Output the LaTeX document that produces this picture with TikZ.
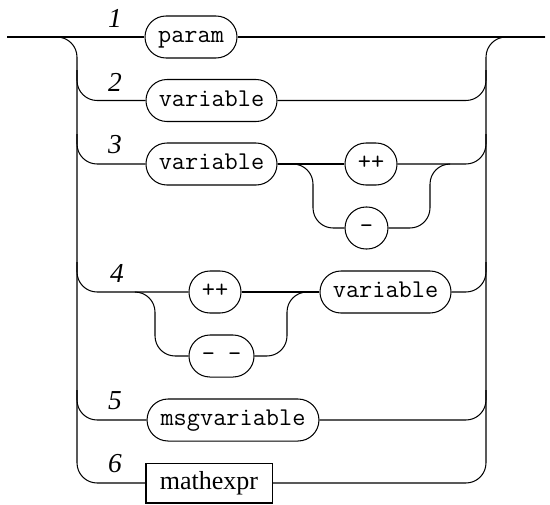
\documentclass[tikz,border=0pt]{standalone}
\usepackage{fontspec}
\setmainfont{Liberation Serif}
\tikzset{
  term/.style={draw,rounded corners=9.2pt,minimum height=18.4pt,inner sep=0pt,
    font=\fontsize{11.2}{13}\ttfamily,text height=7pt,text depth=1.8pt},
  nterm/.style={draw,minimum height=17.5pt,inner sep=0pt,font=\fontsize{11.4}{13}\selectfont},
  num/.style={font=\fontsize{12}{14}\selectfont\itshape},
  rail/.style={rounded corners=8.8pt},
}

\begin{document}
\begin{tikzpicture}[x=0.438pt,y=-0.438pt,line width=0.45pt]
  \useasboundingbox (0,0) rectangle (550,504);
  \coordinate (in) at (7,37); \coordinate (out) at (545,37);
  % alternatives
  \node[term,minimum width=40.3pt] (par) at (191,37) {param};
  \node[term,minimum width=57.4pt] (var2) at (211.5,100.5) {variable};
  \node[term,minimum width=57.4pt] (var3) at (211.5,164) {variable};
  \node[term,minimum width=22.8pt] (inc3) at (371,164) {++};
  \node[term,minimum width=18.8pt] (dec3) at (366.5,228) {–};
  \node[term,minimum width=22.8pt] (inc4) at (215,292) {++};
  \node[term,minimum width=28.5pt] (dec4) at (221.5,356) {– –};
  \node[term,minimum width=57.4pt] (var4) at (385.5,292) {variable};
  \node[term,minimum width=75.3pt] (msg) at (233,420) {msgvariable};
  \node[nterm,minimum width=55.2pt] (math) at (209,483) {mathexpr};
  \node[num] (lab1) at (115,18) {1}; \node[num] (lab2) at (115,82) {2};
  \node[num] (lab3) at (115,145) {3}; \node[num] (lab4) at (117,273) {4};
  \node[num] (lab5) at (115,401) {5}; \node[num] (lab6) at (115,464) {6};
  % rails
  \draw (in) -- (par) -- (out);
  \draw[rail] (57,37) -| (77,483) -- (math.west);
  \draw[rail] (math.east) -| (486,37) -- (out);
  \draw[rail] (77,70) |- (var2.west); \draw[rail] (var2.east) -| (486,70);
  \draw[rail] (77,134) |- (var3.west); \draw (var3) -- (inc3); \draw[rail] (inc3.east) -| (486,134);
  \draw[rail] (var3.east) -| (313,228) -- (dec3.west);
  \draw[rail] (dec3.east) -| (430,164) -- (450,164);
  \draw[rail] (77,262) |- (inc4.west); \draw (inc4) -- (var4); \draw[rail] (var4.east) -| (486,262);
  \draw[rail] (135,292) -| (155,356) -- (dec4.west);
  \draw[rail] (dec4.east) -| (287,292) -- (307,292);
  \draw[rail] (77,390) |- (msg.west); \draw[rail] (msg.east) -| (486,390);
\end{tikzpicture}
\end{document}
